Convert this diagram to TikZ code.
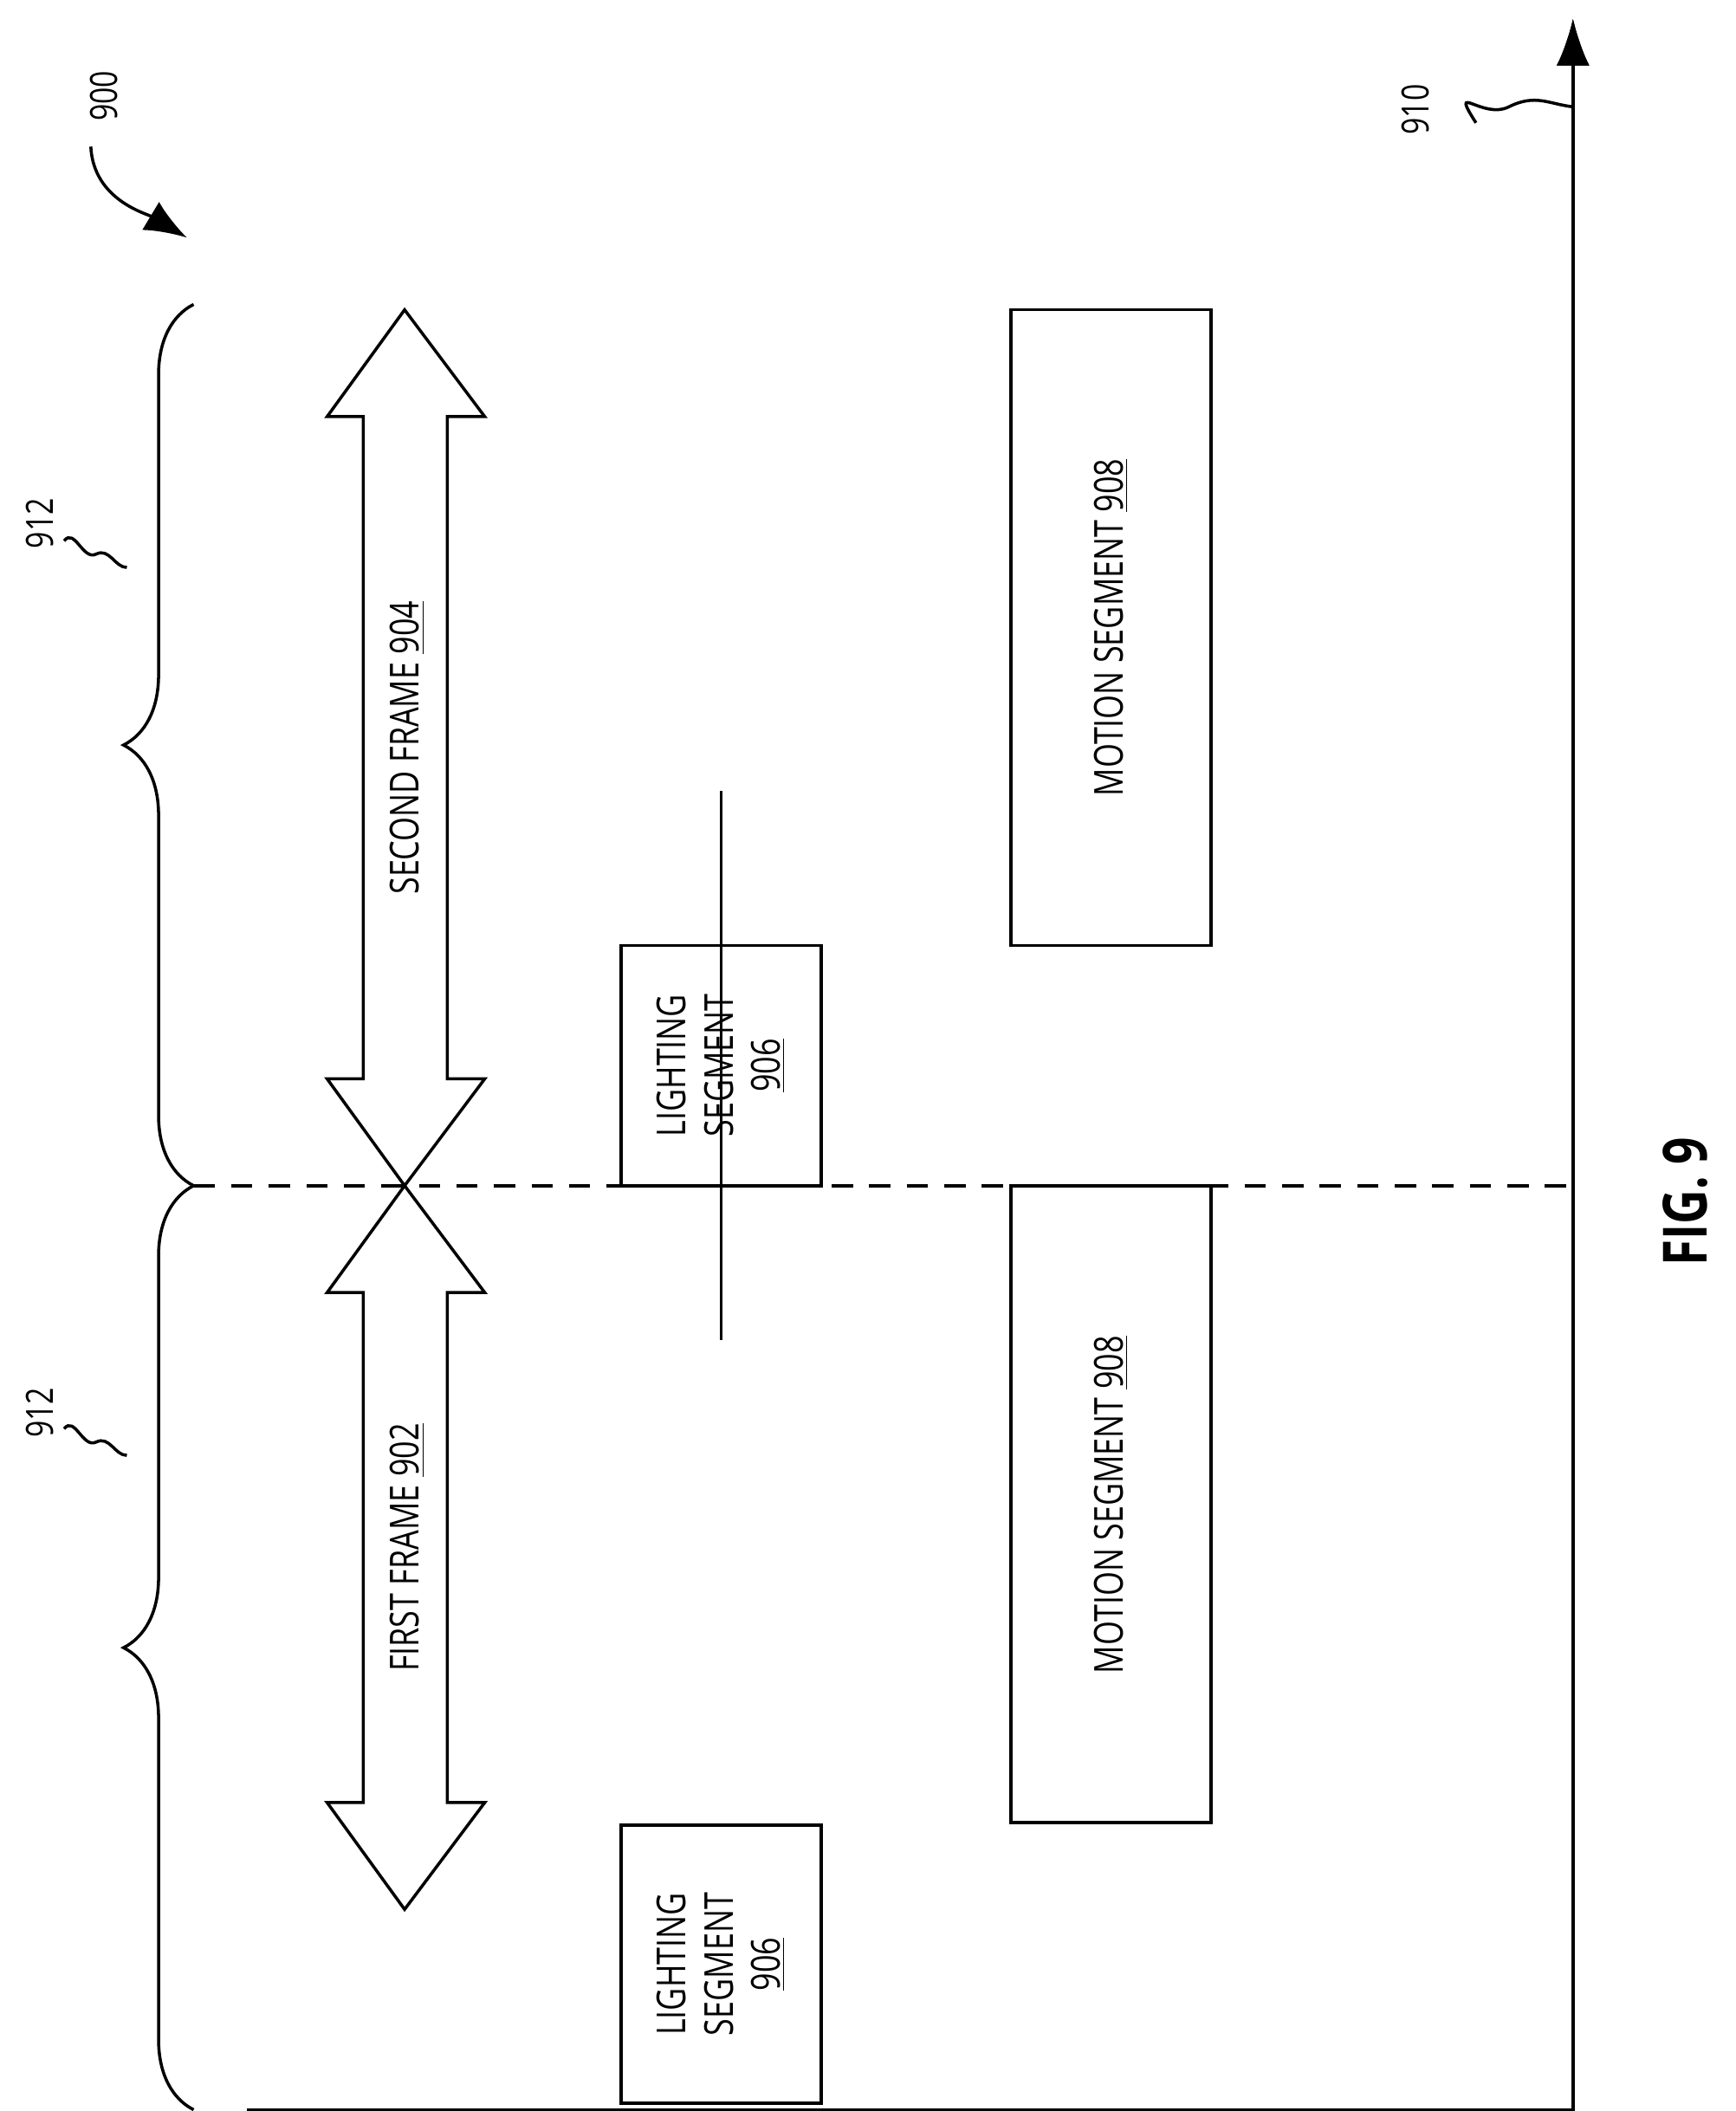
\documentclass[tikz,border=0pt]{standalone}
\usepackage{fontspec}
\setmainfont[FakeStretch=0.78]{Open Sans}
\usetikzlibrary{positioning,arrows.meta,decorations.pathreplacing}

\begin{document}
\begin{tikzpicture}[x=0.02cm,y=-0.02cm,line width=1.3pt,
  every node/.style={font=\fontsize{17}{20}\selectfont},
  seg/.style={draw,rotate=90,align=center,inner sep=0pt},
  lbl/.style={rotate=90,font=\fontsize{16}{18}\selectfont},
  brc/.style={decorate,decoration={brace,amplitude=1.05cm}}
]
\useasboundingbox (0,0) rectangle (1300,1581);

% Axes
\coordinate (o) at (185,1580);
\coordinate (xend) at (1178,1580);
\coordinate (ytop) at (1178,14);
\draw (o) -- (xend) -- (ytop) [-{Latex[length=20pt,width=14pt]}];
\draw[-{Latex[length=20pt,width=14pt]}] (xend) -- (ytop);
\coordinate (dl) at (145,888);
\coordinate (dr) at (1178,888);
\draw[dashed,dash pattern=on 9pt off 7pt] (dl) -- (dr);

% Labels 900 / 910
\node[lbl] (n900) at (78,72) {900};
\coordinate (a900) at (140,178);
\draw[-{Latex[length=18pt,width=14pt]}] (n900.west) ++(-10,12) .. controls (70,150) and (110,160) .. (a900);
\node[lbl] (n910) at (1060,82) {910};
\coordinate (t910) at (1178,80);
\draw (n910.south) ++(28,10) .. controls (1085,60) and (1110,90) .. (1130,80) .. controls (1150,70) and (1160,78) .. (t910);

% Braces
\coordinate (b1) at (145,228);
\coordinate (b2) at (145,888);
\coordinate (b3) at (145,1580);
\draw[brc] (b2) -- (b1);
\draw[brc] (b3) -- (b2);
\node[lbl] (n912a) at (30,392) {912};
\node[lbl] (n912b) at (30,1058) {912};
\draw (48,405) .. controls (56,395) and (62,420) .. (72,415) .. controls (82,410) and (86,425) .. (95,425);
\draw (48,1070) .. controls (56,1060) and (62,1085) .. (72,1080) .. controls (82,1075) and (86,1090) .. (95,1090);

% Frames
\foreach \t/\b/\txt in {232/888/{SECOND FRAME \underline{904}}, 888/1430/{FIRST FRAME \underline{902}}} {
  \draw (303,\t) -- (363,\t+80) -- (335,\t+80) -- (335,\b-80) -- (363,\b-80) -- (303,\b)
    -- (245,\b-80) -- (272,\b-80) -- (272,\t+80) -- (245,\t+80) -- cycle;
  \node[rotate=90] at (305,{(\t+\b)/2}) {\txt};
}

% Segments
\node[seg,minimum width=180\pgflinewidth,minimum height=0pt] (l1) at (540,798) {};
\draw (465,708) rectangle (615,888);
\node[rotate=90,align=center] at (540,798) {LIGHTING\\SEGMENT\\\underline{906}};
\draw (465,1367) rectangle (615,1575);
\node[rotate=90,align=center] at (540,1471) {LIGHTING\\SEGMENT\\\underline{906}};
\draw (757,232) rectangle (907,708);
\node[rotate=90] (m2) at (832,470) {MOTION SEGMENT \underline{908}};
\draw (757,888) rectangle (907,1365);
\node[rotate=90] (m1) at (832,1127) {MOTION SEGMENT \underline{908}};

\node[rotate=90,font=\bfseries\fontsize{26}{30}\selectfont] (fig) at (1262,900) {FIG. 9};
\end{tikzpicture}
\end{document}
